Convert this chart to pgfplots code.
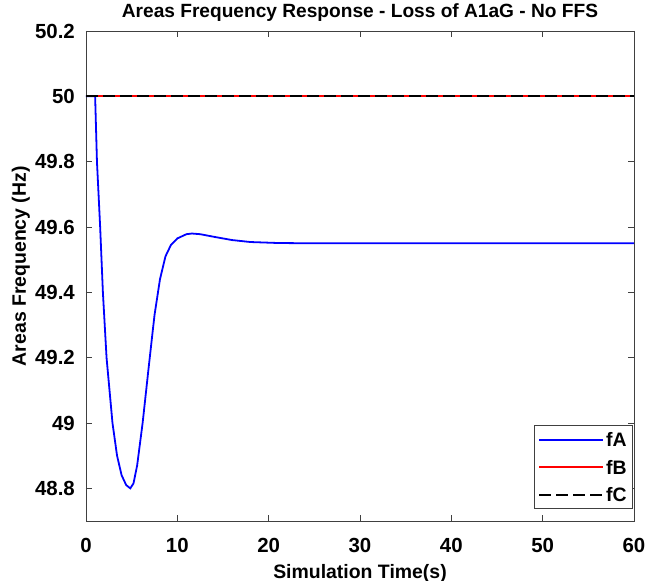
\documentclass[border=0pt]{standalone}
\usepackage{pgfplots}
\pgfplotsset{compat=1.18}
\usepackage{fontspec}
\setmainfont{Liberation Sans}
\pgfplotstableread{
t f
0 50
1 50
1.2 49.8
1.55 49.6
1.85 49.4
2.25 49.2
2.9 49.0
3.4 48.9
3.9 48.84
4.4 48.81
4.85 48.80
5.2 48.815
5.6 48.87
6.2 49.0
6.9 49.18
7.5 49.33
8.1 49.44
8.7 49.51
9.3 49.545
10 49.565
11 49.578
11.6 49.58
12.5 49.578
14 49.57
16 49.56
18 49.554
21 49.551
25 49.55
60 49.55
}\fA
\pgfplotstableread{
t f
0 50
60 50
}\fB
\begin{document}
\begin{tikzpicture}
\useasboundingbox (-86bp,-60bp) rectangle (562bp,521bp);
\begin{axis}[
  at={(0,0)}, anchor=south west,
  scale only axis, width=548bp, height=490bp,
  xmin=0, xmax=60, ymin=48.7, ymax=50.2,
  xtick={0,10,...,60},
  ytick={48.8,49,49.2,49.4,49.6,49.8,50,50.2},
  yticklabels={48.8,49,49.2,49.4,49.6,49.8,50,50.2},
  tick align=inside, major tick length=6bp,
  tick style={black!75, line width=0.6pt},
  axis line style={black!75, line width=0.9pt},
  ticklabel style={font=\fontsize{20.5}{22}\selectfont\bfseries, inner sep=0pt},
  xticklabel style={anchor=base, yshift=-31bp},
  yticklabel style={anchor=east, xshift=-11bp},
  /pgf/number format/assume math mode=true,
  title={Areas Frequency Response - Loss of A1aG - No FFS},
  title style={font=\fontsize{19.2}{21}\selectfont\bfseries, at={(axis description cs:0.5,1)}, anchor=base, yshift=8bp, inner sep=0pt},
  xlabel={Simulation Time(s)},
  ylabel={Areas Frequency (Hz)},
  label style={font=\fontsize{19.5}{21}\selectfont\bfseries, inner sep=0pt},
  xlabel style={at={(axis description cs:0.5,0)}, anchor=base, yshift=-57bp},
  ylabel style={at={(axis description cs:-0.1095,0.52)}, anchor=base},
  legend style={at={(axis description cs:0.998,0.0245)}, anchor=south east, draw=black!75,
    line width=0.7pt,
    font=\fontsize{19.5}{21}\selectfont\bfseries, row sep=9.5bp, inner xsep=4bp, inner ysep=5bp,
    nodes={inner sep=2bp, text height=14bp, text depth=0bp}},
  legend image code/.code={\draw[#1] (0bp,0bp) -- (64bp,0bp);},
  legend cell align=left,
]
\addplot[blue, line width=1.8pt] table[x=t,y=f]{\fA};
\addlegendentry{fA}
\addplot[red, line width=1.8pt] table[x=t,y=f]{\fB};
\addlegendentry{fB}
\addplot[black, line width=1.8pt, dash pattern=on 12bp off 5bp] table[x=t,y=f]{\fB};
\addlegendentry{fC}
\end{axis}
\end{tikzpicture}
\end{document}
